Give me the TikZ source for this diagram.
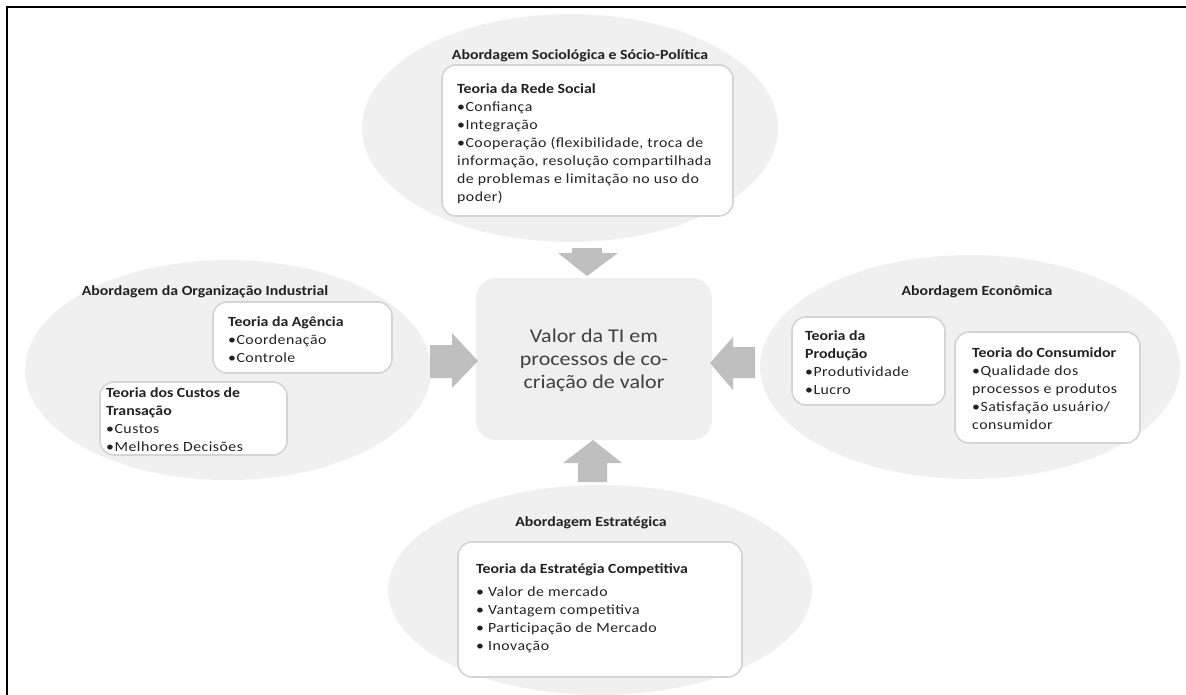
\documentclass[tikz,border=0pt]{standalone}
\usepackage{fontspec}
\setmainfont{Carlito}[FakeStretch=1.13]
\newfontfamily\spacedfont{Carlito}[FakeStretch=1.13, LetterSpace=3.5]
\usetikzlibrary{shapes.geometric}

\definecolor{zonefill}{HTML}{F0F0F0}
\definecolor{cardline}{HTML}{D4D4D4}
\definecolor{arrowfill}{HTML}{BFBFBF}
\definecolor{corefill}{HTML}{EFEFEF}
\definecolor{ink}{HTML}{222222}
\definecolor{coreink}{HTML}{404040}

% bold heading inside a card
\newcommand{\cardhead}[1]{{\rmfamily\bfseries #1}}

\tikzset{
  zone/.style={ellipse, fill=zonefill, draw=none, inner sep=0pt},
  card/.style={rectangle, rounded corners=14pt, draw=cardline, line width=1.6pt, fill=white, inner sep=0pt},
  core/.style={rectangle, rounded corners=20pt, fill=corefill, inner sep=0pt},
  body/.style={font=\spacedfont\fontsize{14}{18}\selectfont, align=left, text=ink, inner sep=0pt, anchor=north west},
  zonetitle/.style={font=\bfseries\fontsize{14}{18}\selectfont, text=ink, inner sep=0pt},
  blockarrow/.style={fill=arrowfill, draw=none},
}

\begin{document}
\begin{tikzpicture}[x=1pt, y=-1pt]
\useasboundingbox (0,0) rectangle (1186,695);

% outer frame (top and left edges)
\draw[line width=2.2pt] (7,695) -- (7,7) -- (1186,7);

% the four approach zones
\node[zone, minimum width=416pt, minimum height=228pt] (ztop) at (570,128) {};
\node[zone, minimum width=406pt, minimum height=220pt] (zleft) at (228,370) {};
\node[zone, minimum width=420pt, minimum height=224pt] (zright) at (970,367) {};
\node[zone, minimum width=424pt, minimum height=210pt] (zbottom) at (600,590) {};

% central concept
\node[core, minimum width=236pt, minimum height=162pt] (core) at (594,359) {};
\node[font=\fontsize{19.5}{23}\selectfont, align=center, text=coreink, inner sep=0pt] (coretext) at (594,360)
  {Valor da TI em\\processos de co-\\criação de valor};

% block arrows pointing at the centre
\fill[blockarrow] (572,248) -- (602,248) -- (602,253) -- (618,253) -- (587,276) -- (558,253) -- (572,253) -- cycle;
\fill[blockarrow] (578,482) -- (607,482) -- (607,463) -- (622,463) -- (593,440) -- (563,463) -- (578,463) -- cycle;
\fill[blockarrow] (430,345) -- (452,345) -- (452,333) -- (478,361) -- (452,388) -- (452,378) -- (430,378) -- cycle;
\fill[blockarrow] (755,347) -- (733,347) -- (733,337) -- (710,363) -- (733,390) -- (733,378) -- (755,378) -- cycle;

% sociological approach
\node[zonetitle] (ttop) at (580,56) {Abordagem Sociológica e Sócio-Política};
\node[card, minimum width=291pt, minimum height=151pt] (crede) at (587.5,140.5) {};
\node[body] (trede) at (457,83) {\cardhead{Teoria da Rede Social}\\
  •Confiança\\
  •Integração\\
  •Cooperação (flexibilidade, troca de\\
  informação, resolução compartilhada\\
  de problemas e limitação no uso do\\
  poder)};

% industrial organisation approach
\node[zonetitle] (tleft) at (205,292) {Abordagem da Organização Industrial};
\node[card, minimum width=179pt, minimum height=71pt] (cagencia) at (302.5,337.5) {};
\node[body] (tagencia) at (228,316) {\cardhead{Teoria da Agência}\\
  •Coordenação\\
  •Controle};
\node[card, minimum width=187pt, minimum height=73pt] (ccustos) at (193.5,418.5) {};
\node[body] (tcustos) at (106,387) {\cardhead{Teoria dos Custos de}\\
  \cardhead{Transação}\\
  •Custos\\
  •Melhores Decisões};

% economic approach
\node[zonetitle] (tright) at (977,292) {Abordagem Econômica};
\node[card, minimum width=153pt, minimum height=88pt] (cproducao) at (868.5,361) {};
\node[body] (tproducao) at (805,330) {\cardhead{Teoria da}\\
  \cardhead{Produção}\\
  •Produtividade\\
  •Lucro};
\node[card, minimum width=185pt, minimum height=111pt] (cconsumidor) at (1047.5,387.5) {};
\node[body] (tconsumidor) at (972,347) {\cardhead{Teoria do Consumidor}\\
  •Qualidade dos\\
  processos e produtos\\
  •Satisfação usuário/\\
  consumidor};

% strategic approach
\node[zonetitle] (tbottom) at (591,523) {Abordagem Estratégica};
\node[card, minimum width=284pt, minimum height=135pt] (cestrategia) at (600,609.5) {};
\node[body] (testrategia) at (476,563) {\cardhead{Teoria da Estratégia Competitiva}\\[5pt]
  • Valor de mercado\\
  • Vantagem competitiva\\
  • Participação de Mercado\\
  • Inovação};
\end{tikzpicture}
\end{document}
